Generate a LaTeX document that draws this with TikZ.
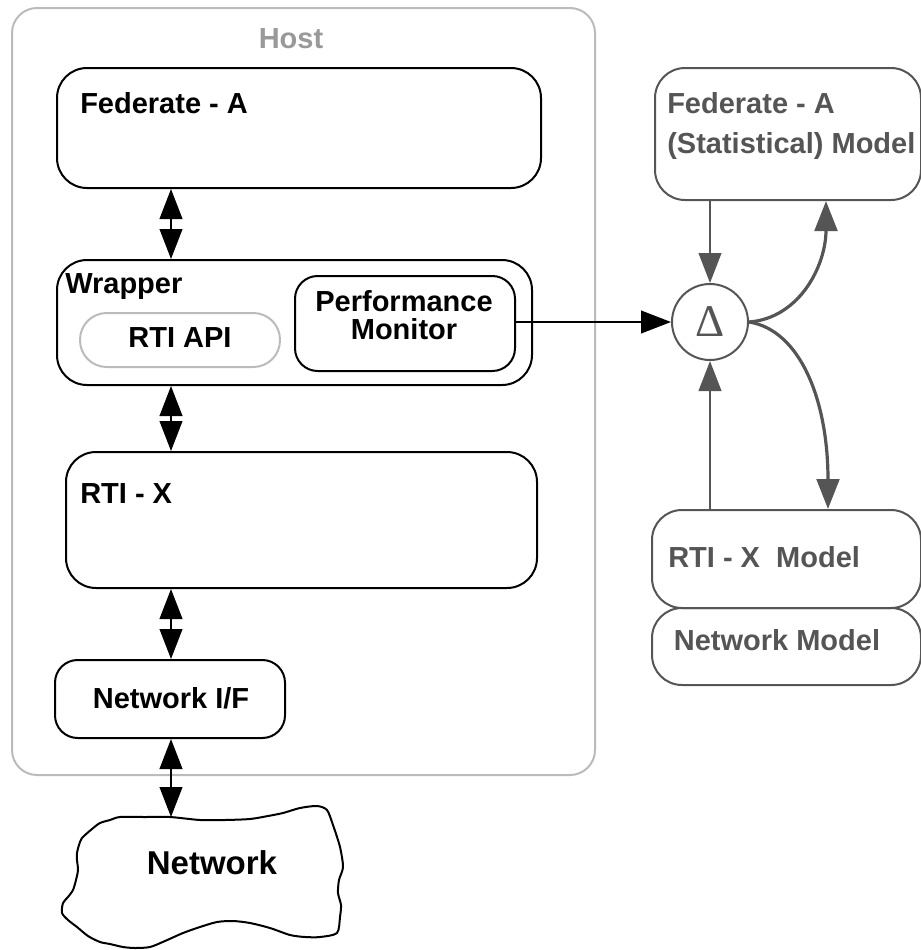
\documentclass[tikz,border=0pt]{standalone}
\usepackage{fontspec}
\setmainfont{Liberation Sans}
\newfontfamily\deltafont{Liberation Serif}
\usetikzlibrary{arrows.meta,calc}

\definecolor{modelgray}{HTML}{555555}
\definecolor{hostgray}{HTML}{BBBBBB}
\definecolor{hosttext}{HTML}{999999}

\newcommand\lbl{\fontsize{21.75pt}{28pt}\selectfont\bfseries}
\newcommand\biglbl{\fontsize{24.75pt}{30pt}\selectfont\bfseries}

\tikzset{
  blackbox/.style={draw=black, line width=1.5pt, rounded corners=22.5pt, inner sep=0pt},
  modelbox/.style={draw=modelgray, line width=1.5pt, rounded corners=22.5pt, inner sep=0pt},
  txt/.style={inner sep=0pt, font=\lbl},
  dblarrow/.style={line width=1.5pt, {Triangle[length=22.5pt,width=17pt]}-{Triangle[length=22.5pt,width=17pt]}},
  feedarrow/.style={draw=modelgray, line width=1.5pt, -{Triangle[length=22.5pt,width=17pt]}, modelgray},
  feedcurve/.style={draw=modelgray, line width=2.4pt, -{Triangle[length=22.5pt,width=17pt]}, modelgray},
}

\begin{document}
\begin{tikzpicture}[x=0.75pt, y=-0.75pt]
\useasboundingbox (0,0) rectangle (921,950);

% host frame
\node[draw=hostgray, line width=1.5pt, rounded corners=18.75pt, minimum width=437.25pt, minimum height=575.25pt, inner sep=0pt] (host) at (303.5,391.5) {};
\node[txt, anchor=base, text=hosttext] (hostlbl) at (291,48.5) {Host};

% boxes inside the host
\node[blackbox, minimum width=363pt, minimum height=90pt] (fed) at (299,128) {};
\node[txt, anchor=base west] (fedlbl) at (80,113.5) {Federate - A};

\node[blackbox, minimum width=356.25pt, minimum height=93.75pt] (wrap) at (294.5,322.5) {};
\node[txt, anchor=base west] (wraplbl) at (65,293) {Wrapper};

\node[draw=hostgray, line width=1.5pt, rounded corners=20pt, minimum width=150pt, minimum height=40.5pt, inner sep=0pt] (api) at (180,340) {};
\node[txt, anchor=base] (apilbl) at (180,347.5) {RTI API};

\node[blackbox, rounded corners=17pt, minimum width=165pt, minimum height=71.25pt] (perf) at (405,323.5) {};
\node[txt, anchor=base] (perflbl1) at (404,311) {Performance};
\node[txt, anchor=base] (perflbl2) at (404,339) {Monitor};

\node[blackbox, minimum width=353.25pt, minimum height=102pt] (rtix) at (301.5,520) {};
\node[txt, anchor=base west] (rtixlbl) at (80,503.5) {RTI - X};

\node[blackbox, rounded corners=17pt, minimum width=172.5pt, minimum height=58.5pt] (nif) at (170,699) {};
\node[txt, anchor=base] (niflbl) at (171,708.5) {Network I/F};

% network cloud
\draw[line width=1.5pt, line join=round]
  plot[smooth cycle, tension=0.45] coordinates {
    (82,838) (92,829) (100,823) (110,820) (120,817) (145,817) (170,817)
    (200,820) (225,820) (250,819) (268,816) (283,813) (300,808) (317,806)
    (327,810) (333,825) (340,847) (343,867) (339,880) (338,893) (341,905)
    (340,917) (337,933) (320,937) (305,937) (290,935) (270,928) (250,923)
    (233,921) (217,922) (200,927) (183,933) (165,941) (150,947) (135,948)
    (123,947) (110,944) (100,942) (88,936) (77,927) (68,920) (62,913)
    (63,903) (68,897) (73,890) (76,880) (78,870) (77,860) (77,853) (79,845)
  };
\node[inner sep=0pt, font=\biglbl, anchor=base] (net) at (212,874) {Network};
\coordinate (nettop) at (170,817);

% vertical double arrows
\coordinate (ax) at (171,0);
\draw[dblarrow] (fed.south -| ax) -- (wrap.north -| ax);
\draw[dblarrow] (wrap.south -| ax) -- (rtix.north -| ax);
\draw[dblarrow] (rtix.south -| ax) -- (nif.north -| ax);
\draw[dblarrow] (nif.south -| ax) -- (nettop -| ax);

% model side
\node[modelbox, minimum width=199.5pt, minimum height=99pt] (stat) at (788,134) {};
\node[txt, anchor=base west, text=modelgray] (statlbl1) at (667,113.5) {Federate - A};
\node[txt, anchor=base west, text=modelgray] (statlbl2) at (667,153.5) {(Statistical) Model};

\node[modelbox, minimum width=201.75pt, minimum height=73.5pt] (rtixm) at (786.5,559) {};
\node[txt, anchor=base west, text=modelgray] (rtixmlbl) at (668,567.5) {RTI - X\ \ Model};

\node[modelbox, minimum width=201.75pt, minimum height=57.75pt] (netm) at (786.5,646.5) {};
\node[txt, anchor=base, text=modelgray] (netmlbl) at (777,650.5) {Network Model};

\node[circle, draw=modelgray, line width=1.5pt, minimum size=57pt, inner sep=0pt] (delta) at (710,322) {};
\node[inner sep=0pt, text=modelgray, font=\deltafont\fontsize{34pt}{34pt}\selectfont] (deltasym) at (delta.center) {Δ};

% monitor output into the comparator
\draw[line width=1.5pt, -{Triangle[length=22.5pt,width=17pt]}] (delta.west -| perf.east) -- (delta.west);

% comparator connections
\coordinate (upx) at (826,0);
\coordinate (downx) at (828,0);
\draw[feedarrow] (stat.south -| delta) -- (delta.north);
\draw[feedarrow] (rtixm.north -| delta) -- (delta.south);
\draw[feedcurve] (delta.east) .. controls (800,318) and (826,265) .. (stat.south -| upx);
\draw[feedcurve] (delta.east) .. controls (800,330) and (828,400) .. (rtixm.north -| downx);
\end{tikzpicture}
\end{document}
